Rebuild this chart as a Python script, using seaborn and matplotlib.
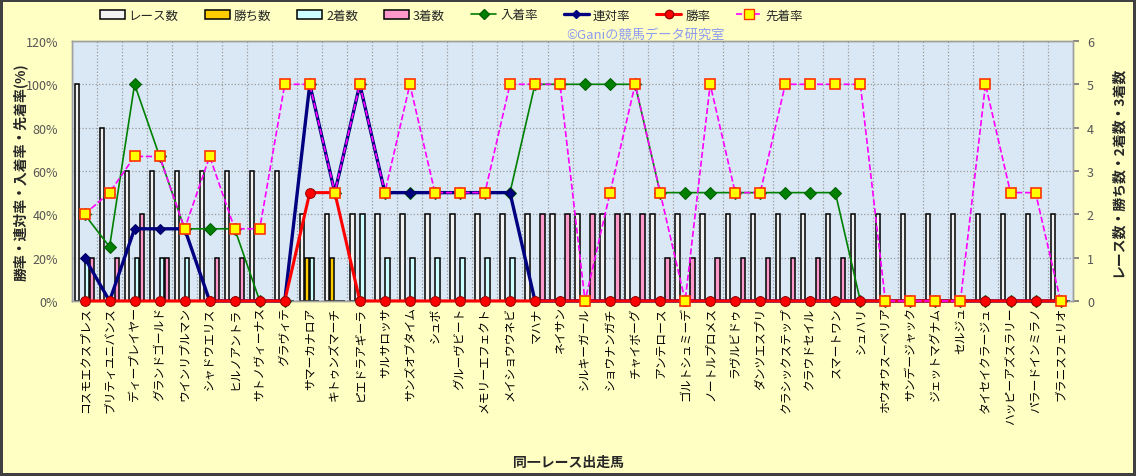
import numpy as np
import pandas as pd
import matplotlib
matplotlib.use("Agg")
import matplotlib.pyplot as plt
from matplotlib.lines import Line2D
from matplotlib.patches import Patch
from matplotlib.ticker import PercentFormatter, FixedLocator, MultipleLocator
import seaborn as sns

#%% data
names = ["コスモエクスプレス", "ブリティユニバンス", "ディープレイヤー", "グランドゴールド",
         "ウインリプルマン", "シャドウエリス", "ヒルノアントラ", "サトノヴィーナス",
         "グラヴィテ", "サマーカナロア", "キトゥンズマーチ", "ピエドラアギーラ",
         "サルサロッサ", "サンズオブタイム", "シュボ", "グルーヴビート",
         "メモリーエフェクト", "メイショウウネビ", "マハナ", "ネイサン",
         "シルキーガール", "ショウナンガチ", "チャイボーグ", "アンテロース",
         "ゴルトシュミーデ", "ノートルプロメス", "ラヴルビドゥ", "ダンツエスプリ",
         "クラシックステップ", "クラウドセイル", "スマートワン", "シュハリ",
         "ホウオウスーベリア", "サンデージャック", "ジェットマグナム", "セルジュ",
         "タイセイクラージュ", "ハッピーアズスラリー", "パラードインミラノ", "ブラニスフェリオ"]

races   = [5, 4, 3, 3, 3, 3, 3, 3, 3, 2, 2, 2, 2, 2, 2, 2, 2, 2, 2, 2,
           2, 2, 2, 2, 2, 2, 2, 2, 2, 2, 2, 2, 2, 2, 2, 2, 2, 2, 2, 2]
wins    = [0, 0, 0, 0, 0, 0, 0, 0, 0, 1, 1, 0, 0, 0, 0, 0, 0, 0, 0, 0,
           0, 0, 0, 0, 0, 0, 0, 0, 0, 0, 0, 0, 0, 0, 0, 0, 0, 0, 0, 0]
seconds = [1, 0, 1, 1, 1, 0, 0, 0, 0, 1, 0, 2, 1, 1, 1, 1, 1, 1, 0, 0,
           0, 0, 0, 0, 0, 0, 0, 0, 0, 0, 0, 0, 0, 0, 0, 0, 0, 0, 0, 0]
thirds  = [1, 1, 2, 1, 0, 1, 1, 0, 0, 0, 0, 0, 0, 0, 0, 0, 0, 0, 2, 2,
           2, 2, 2, 1, 1, 1, 1, 1, 1, 1, 1, 0, 0, 0, 0, 0, 0, 0, 0, 0]

# rates (%)
place_rate    = [40, 25, 100, 66.7, 33.3, 33.3, 33.3, 0, 0, 100, 50, 100, 50, 50, 50, 50, 50, 50, 100, 100,
                 100, 100, 100, 50, 50, 50, 50, 50, 50, 50, 50, 0, 0, 0, 0, 0, 0, 0, 0, 0]
rentai_rate   = [20, 0, 33.3, 33.3, 33.3, 0, 0, 0, 0, 100, 50, 100, 50, 50, 50, 50, 50, 50, 0, 0,
                 0, 0, 0, 0, 0, 0, 0, 0, 0, 0, 0, 0, 0, 0, 0, 0, 0, 0, 0, 0]
win_rate      = [0, 0, 0, 0, 0, 0, 0, 0, 0, 50, 50, 0, 0, 0, 0, 0, 0, 0, 0, 0,
                 0, 0, 0, 0, 0, 0, 0, 0, 0, 0, 0, 0, 0, 0, 0, 0, 0, 0, 0, 0]
senchaku_rate = [40, 50, 66.7, 66.7, 33.3, 66.7, 33.3, 33.3, 100, 100, 50, 100, 50, 100, 50, 50, 50, 100, 100, 100,
                 0, 50, 100, 50, 0, 100, 50, 50, 100, 100, 100, 100, 0, 0, 0, 0, 100, 50, 50, 0]

bar_kinds = ["レース数", "勝ち数", "2着数", "3着数"]
bar_colors = {"レース数": "#F2F2F2", "勝ち数": "#FFCC00", "2着数": "#CCFFFF", "3着数": "#FF99CC"}

#%% style
sns.set_theme(style="white")
plt.rcParams['font.family'] = ['Noto Sans CJK JP', 'DejaVu Sans']

fig, ax = plt.subplots(figsize=(11.36, 4.77), dpi=100)
fig.patch.set_facecolor("#FFFFC4")
fig.patch.set_edgecolor("#404040")
fig.patch.set_linewidth(3)
fig.subplots_adjust(left=0.0634, right=0.9446, top=0.912, bottom=0.367)

ax2 = ax.twinx()
ax.set_zorder(ax2.get_zorder() + 1)
ax.patch.set_visible(False)
ax2.patch.set_visible(True)
ax2.patch.set_facecolor("#DAE8F6")

idx = np.arange(len(names))

#%% bars (right axis)
df_bars = pd.DataFrame({
    "idx": np.tile(idx, 4),
    "count": races + wins + seconds + thirds,
    "kind": np.repeat(bar_kinds, len(names)),
})
sns.barplot(data=df_bars, x="idx", y="count", hue="kind", hue_order=bar_kinds,
            palette=bar_colors, saturation=1, width=0.8, gap=0.12,
            edgecolor="black", linewidth=1.1, errorbar=None, legend=False, ax=ax2)

#%% lines (left axis)
sns.lineplot(x=idx, y=place_rate, ax=ax, color="#008000", linewidth=1.2,
             marker="D", markersize=6.5, markeredgecolor="#006000", zorder=3, clip_on=False)
sns.lineplot(x=idx, y=rentai_rate, ax=ax, color="#000080", linewidth=2.4,
             marker="D", markersize=5, markeredgecolor="#000060", zorder=4, clip_on=False)
sns.lineplot(x=idx, y=win_rate, ax=ax, color="#FF0000", linewidth=2.2,
             marker="o", markersize=7, markeredgecolor="#990000", zorder=5, clip_on=False)
sns.lineplot(x=idx, y=senchaku_rate, ax=ax, color="#FF00FF", linewidth=1.2, linestyle="--",
             dashes=(5, 3), marker="s", markersize=7.5, markerfacecolor="#FFFF00",
             markeredgecolor="#FF3300", markeredgewidth=1.2, zorder=6, clip_on=False)

#%% axes
ax.set_xlim(-0.5, len(names) - 0.5)
ax.set_ylim(0, 120)
ax2.set_ylim(0, 6)
ax.yaxis.set_major_locator(MultipleLocator(20))
ax.yaxis.set_major_formatter(PercentFormatter(decimals=0))
ax2.yaxis.set_major_locator(MultipleLocator(1))

ax.set_xticks(idx)
ax.set_xticklabels(names, rotation=90, fontsize=8.5, color="black")
ax.xaxis.set_minor_locator(FixedLocator(np.arange(-0.5, len(names), 1)))
ax.tick_params(axis="x", which="both", length=0, pad=4)
ax.tick_params(axis="y", labelsize=9, labelcolor="#555555", length=0, pad=10)
ax2.tick_params(axis="y", labelsize=9, labelcolor="#555555", length=4, color="#777777", pad=6)

ax.grid(which="minor", axis="x", color="#9A9A9A", linestyle=":", linewidth=0.9)
ax2.set_axisbelow(True)
ax2.grid(which="major", axis="y", color="#9A9A9A", linestyle=":", linewidth=0.9)

ax.set_xlabel("")
ax.set_ylabel("")
ax2.set_xlabel("")
ax2.set_ylabel("")
for sp in list(ax.spines.values()) + list(ax2.spines.values()):
    sp.set_color("#A0A0A0")
    sp.set_linewidth(1)

#%% texts
fig.text(20 / 1136, 1 - 172 / 477, "勝率・連対率・入着率・先着率(%)", rotation=90,
         ha="center", va="center", fontsize=10, weight="bold")
fig.text(1118 / 1136, 1 - 172 / 477, "レース数・勝ち数・2着数・3着数", rotation=90,
         ha="center", va="center", fontsize=10, weight="bold")
fig.text(0.5, 1 - 463 / 477, "同一レース出走馬", ha="center", va="center",
         fontsize=10, weight="bold")
ax.text(0.573, 1.0, "©Ganiの競馬データ研究室", transform=ax.transAxes,
        ha="center", va="bottom", fontsize=9.5, color="#8C9CF0", zorder=10)

#%% legend
handles = [Patch(facecolor=bar_colors[k], edgecolor="black", linewidth=1.1) for k in bar_kinds]
handles += [
    Line2D([], [], color="#008000", lw=1.2, marker="D", ms=5, mec="#006000"),
    Line2D([], [], color="#000080", lw=2.4, marker="D", ms=4.5),
    Line2D([], [], color="#FF0000", lw=2.2, marker="o", ms=6, mec="#990000"),
    Line2D([], [], color="#FF00FF", lw=1.2, ls="--", marker="s", ms=6.5,
           mfc="#FFFF00", mec="#FF3300"),
]
labels = bar_kinds + ["入着率", "連対率", "勝率", "先着率"]
fig.legend(handles, labels, loc="center left", bbox_to_anchor=(0.078, 1 - 16 / 477),
           ncol=8, frameon=False, fontsize=9, handlelength=2.0, handleheight=0.7,
           columnspacing=2.1, handletextpad=0.3)

fig.savefig("out.png", dpi=100, facecolor=fig.get_facecolor(), edgecolor=fig.get_edgecolor())
